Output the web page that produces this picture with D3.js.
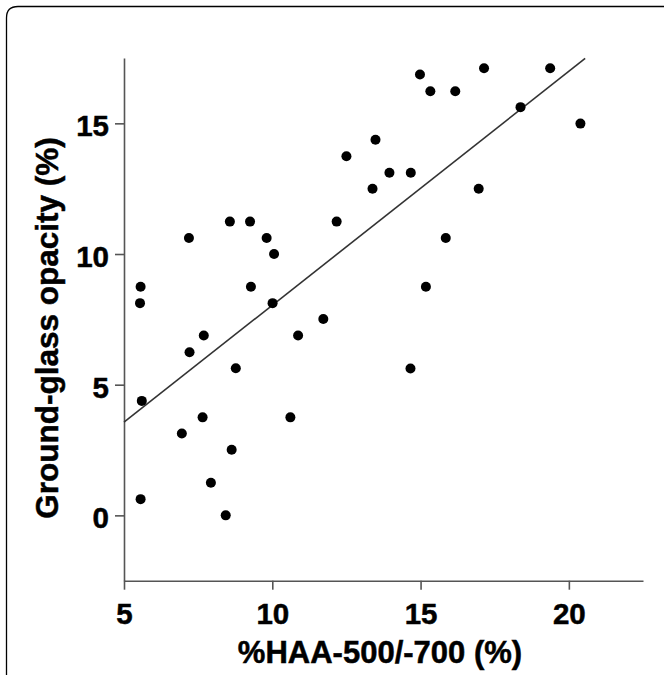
<!DOCTYPE html>
<html>
<head>
<meta charset="utf-8">
<script src="https://cdn.jsdelivr.net/npm/d3@7/dist/d3.min.js"></script>
<style>
  html, body { margin: 0; padding: 0; background: #fff; }
  svg { display: block; }
  text { font-family: "Liberation Sans", Arial, sans-serif; font-weight: bold; fill: #000; stroke: #000; stroke-width: 0.5px; }
</style>
</head>
<body>
<script>
// Data
const haa = [5.56, 5.54, 5.60, 5.56, 6.95, 7.19, 7.21, 7.69, 7.65, 7.93, 8.43, 8.57, 8.63, 8.77,
  9.25, 9.28, 9.81, 10.06, 10.01, 10.61, 10.87, 11.72, 12.17, 12.50, 13.38, 13.48, 13.95,
  14.67, 14.66, 14.98, 15.18, 15.33, 15.85, 16.17, 16.96, 17.14, 18.37, 19.37, 20.39];
const ggo = [8.75, 8.12, 4.38, 0.62, 3.13, 10.61, 6.24, 6.88, 3.75, 1.25, 0.00, 11.24, 2.51, 5.63,
  11.24, 8.75, 10.61, 10.00, 8.12, 3.75, 6.88, 7.51, 11.24, 13.74, 12.50, 14.37, 13.11,
  13.11, 5.62, 16.87, 8.75, 16.23, 10.61, 16.23, 12.50, 17.11, 15.62, 17.11, 14.99];
const xTicks = [5, 10, 15, 20];
const yTicks = [0, 5, 10, 15];
const fitX = [5.0, 20.55];
const fitIntercept = -0.91;
const fitSlope = 0.895;
const xTitle = "%HAA-500/-700 (%)";
const yTitle = "Ground-glass opacity (%)";

const W = 664, H = 675;
const svg = d3.select("body").append("svg").attr("width", W).attr("height", H);

// outer frame (cropped rounded box)
svg.append("path")
  .attr("d", `M6.5,${H} L6.5,18 Q6.5,6.5 18,6.5 L${W},6.5`)
  .attr("fill", "none").attr("stroke", "#000").attr("stroke-width", 1.3);

const x = d3.scaleLinear().domain([5, 22.5]).range([124, 643]);
const y = d3.scaleLinear().domain([-2.5, 17.5]).range([580.7, 58]);

const axisColor = "#555";

// X axis
const gx = svg.append("g").attr("transform", `translate(0,${y(-2.5)})`)
  .call(d3.axisBottom(x).tickValues(xTicks).tickSize(9).tickPadding(13).tickSizeOuter(0));
gx.select(".domain").attr("stroke", axisColor).attr("stroke-width", 1.6);
gx.selectAll(".tick line").attr("stroke", axisColor).attr("stroke-width", 1.6);
gx.selectAll(".tick text").attr("font-size", 29.5).attr("font-family", "Liberation Sans, Arial, sans-serif").attr("font-weight", "bold").attr("fill", "#000");

// Y axis
const gy = svg.append("g").attr("transform", `translate(${x(5)},0)`)
  .call(d3.axisLeft(y).tickValues(yTicks).tickSize(9).tickPadding(6).tickSizeOuter(0));
gy.select(".domain").attr("stroke", axisColor).attr("stroke-width", 1.6);
gy.selectAll(".tick line").attr("stroke", axisColor).attr("stroke-width", 1.6);
gy.selectAll(".tick text").attr("font-size", 29.5).attr("dy", "0.42em").attr("font-family", "Liberation Sans, Arial, sans-serif").attr("font-weight", "bold").attr("fill", "#000");

// Regression line
svg.append("line")
  .attr("x1", x(fitX[0])).attr("y1", y(fitIntercept + fitSlope * fitX[0]))
  .attr("x2", x(fitX[1])).attr("y2", y(fitIntercept + fitSlope * fitX[1]))
  .attr("stroke", "#333").attr("stroke-width", 1.6);

// Points
svg.append("g").selectAll("circle")
  .data(haa.map((v, i) => [v, ggo[i]]))
  .join("circle")
  .attr("cx", d => x(d[0])).attr("cy", d => y(d[1]))
  .attr("r", 5).attr("fill", "#000");

// Titles
svg.append("text")
  .attr("x", 380).attr("y", 663)
  .attr("text-anchor", "middle").attr("font-size", 31)
  .text(xTitle);

svg.append("text")
  .attr("transform", `translate(58,328) rotate(-90)`)
  .attr("text-anchor", "middle").attr("font-size", 31.5)
  .text(yTitle);
</script>
</body>
</html>
